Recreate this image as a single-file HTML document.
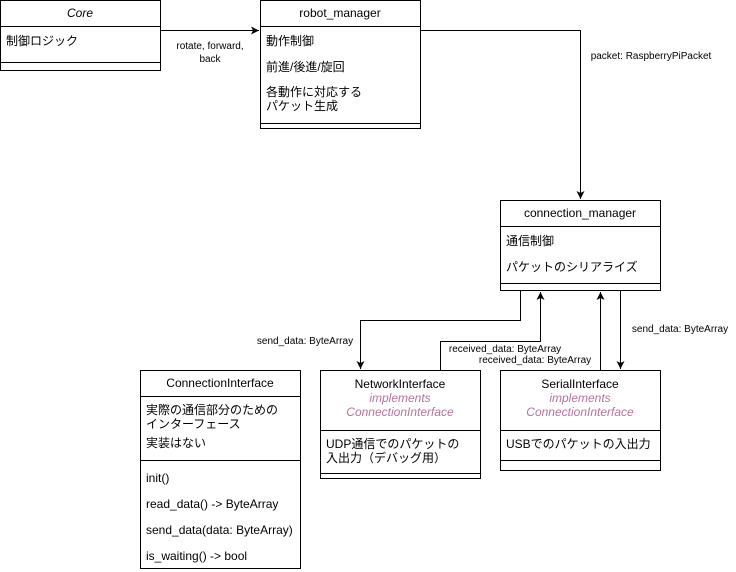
<!DOCTYPE html>
<html><head><meta charset="utf-8"><style>
html,body{margin:0;padding:0;background:#fff;}
svg{display:block;}
text{font-family:"Liberation Sans","Noto Sans CJK JP",sans-serif;fill:#000;}
.t{font-size:12px;}
.s{font-size:10px;}
.p{fill:#b5739d;font-style:italic;font-size:12px;}
</style></head><body>
<svg width="736" height="572" viewBox="0 0 736 572" xmlns="http://www.w3.org/2000/svg">
<defs><marker id="a" markerWidth="10" markerHeight="10" refX="8" refY="5" orient="auto" markerUnits="userSpaceOnUse"><path d="M0,1 L8,5 L0,9 L2,5 Z" fill="#000"/></marker></defs>
<g fill="none" stroke="#000" stroke-width="1">
<!-- Core -->
<rect x="0.5" y="0.5" width="160" height="70"/><line x1="0.5" y1="26.5" x2="160.5" y2="26.5"/><line x1="0.5" y1="62.5" x2="160.5" y2="62.5"/>
<!-- robot_manager -->
<rect x="260.5" y="0.5" width="160" height="128"/><line x1="260.5" y1="26.5" x2="420.5" y2="26.5"/><line x1="260.5" y1="123.5" x2="420.5" y2="123.5"/>
<!-- connection_manager -->
<rect x="500.5" y="200.5" width="160" height="90"/><line x1="500.5" y1="226.5" x2="660.5" y2="226.5"/><line x1="500.5" y1="283.5" x2="660.5" y2="283.5"/>
<!-- ConnectionInterface -->
<rect x="140.5" y="370.5" width="160" height="198"/><line x1="140.5" y1="396.5" x2="300.5" y2="396.5"/><line x1="140.5" y1="460.5" x2="300.5" y2="460.5"/>
<!-- NetworkInterface -->
<rect x="320.5" y="370.5" width="160" height="108"/><line x1="320.5" y1="430.5" x2="480.5" y2="430.5"/><line x1="320.5" y1="473.5" x2="480.5" y2="473.5"/>
<!-- SerialInterface -->
<rect x="500.5" y="370.5" width="160" height="100"/><line x1="500.5" y1="430.5" x2="660.5" y2="430.5"/><line x1="500.5" y1="460.5" x2="660.5" y2="460.5"/>
<!-- edges -->
<polyline points="160.5,30.5 259,30.5" marker-end="url(#a)"/>
<polyline points="420.5,30.5 580.5,30.5 580.5,199" marker-end="url(#a)"/>
<polyline points="520.5,291 520.5,320.5 360.5,320.5 360.5,369" marker-end="url(#a)"/>
<polyline points="440.5,370 440.5,341.5 540.5,341.5 540.5,292" marker-end="url(#a)"/>
<polyline points="600.5,370 600.5,292" marker-end="url(#a)"/>
<polyline points="620.5,291 620.5,369" marker-end="url(#a)"/>
</g>
<text class="t" x="80" y="17" text-anchor="middle" font-style="italic">Core</text>
<text class="t" x="6" y="45">制御ロジック</text>
<text class="t" x="340" y="17" text-anchor="middle">robot_manager</text>
<text class="t" x="266" y="45">動作制御</text>
<text class="t" x="266" y="71">前進/後進/旋回</text>
<text class="t" x="266" y="96">各動作に対応する</text>
<text class="t" x="266" y="110">パケット生成</text>
<text class="s" x="210" y="49" text-anchor="middle">rotate, forward,</text>
<text class="s" x="210" y="62" text-anchor="middle">back</text>
<text class="s" x="651" y="59" text-anchor="middle">packet: RaspberryPiPacket</text>
<text class="t" x="580" y="217" text-anchor="middle">connection_manager</text>
<text class="t" x="506" y="245">通信制御</text>
<text class="t" x="506" y="271" fill="#333">パケットのシリアライズ</text>
<text class="s" x="305" y="344" text-anchor="middle">send_data: ByteArray</text>
<text class="s" x="505" y="352" text-anchor="middle">received_data: ByteArray</text>
<text class="s" x="535" y="363" text-anchor="middle">received_data: ByteArray</text>
<text class="s" x="680" y="332" text-anchor="middle">send_data: ByteArray</text>
<text class="t" x="220" y="387" text-anchor="middle">ConnectionInterface</text>
<text class="t" x="146" y="414">実際の通信部分のための</text>
<text class="t" x="146" y="428">インターフェース</text>
<text class="t" x="146" y="447">実装はない</text>
<text class="t" x="146" y="482">init()</text>
<text class="t" x="146" y="508">read_data() -&gt; ByteArray</text>
<text class="t" x="146" y="534">send_data(data: ByteArray)</text>
<text class="t" x="146" y="560">is_waiting() -&gt; bool</text>
<text class="t" x="400" y="388" text-anchor="middle">NetworkInterface</text>
<text class="p" x="400" y="402" text-anchor="middle">implements</text>
<text class="p" x="400" y="416" text-anchor="middle">ConnectionInterface</text>
<text class="t" x="326" y="448">UDP通信でのパケットの</text>
<text class="t" x="326" y="462">入出力（デバッグ用）</text>
<text class="t" x="580" y="388" text-anchor="middle">SerialInterface</text>
<text class="p" x="580" y="402" text-anchor="middle">implements</text>
<text class="p" x="580" y="416" text-anchor="middle">ConnectionInterface</text>
<text class="t" x="506" y="448">USBでのパケットの入出力</text>
</svg>
</body></html>
